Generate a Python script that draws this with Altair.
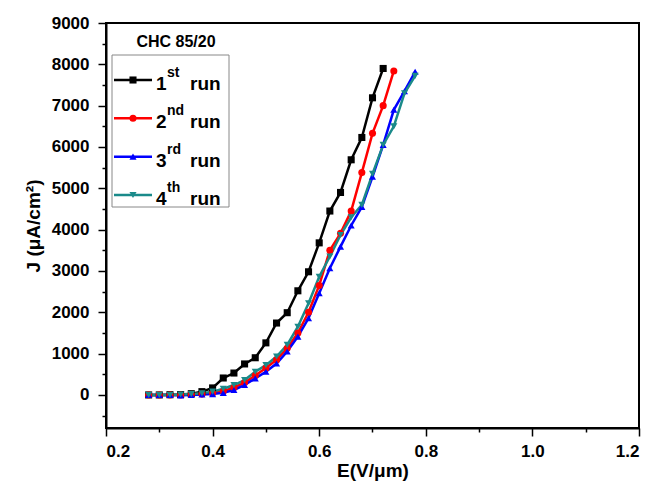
import altair as alt
import pandas as pd

runs = ["1st run", "2nd run", "3rd run", "4th run"]
nums = ["1", "2", "3", "4"]
sups = ["st", "nd", "rd", "th"]
colors = ["#000000", "#ff0000", "#0000ff", "#1a8a8a"]
shapes = ["square", "circle", "triangle-up", "triangle-down"]

x_run1 = [0.28, 0.30, 0.32, 0.34, 0.36, 0.38, 0.40, 0.42, 0.44, 0.46, 0.48, 0.50,
          0.52, 0.54, 0.56, 0.58, 0.60, 0.62, 0.64, 0.66, 0.68, 0.70, 0.72]
j_run1 = [0, 0, 5, 10, 30, 80, 170, 410, 530, 750, 900, 1260,
          1740, 1990, 2520, 2980, 3680, 4450, 4900, 5690, 6230, 7190, 7900]

x_run2 = [0.28, 0.30, 0.32, 0.34, 0.36, 0.38, 0.40, 0.42, 0.44, 0.46, 0.48, 0.50,
          0.52, 0.54, 0.56, 0.58, 0.60, 0.62, 0.64, 0.66, 0.68, 0.70, 0.72, 0.74]
j_run2 = [0, 0, 0, 0, 10, 20, 40, 90, 180, 300, 470, 650,
          850, 1130, 1500, 2000, 2650, 3500, 3910, 4450, 5380, 6330, 7000, 7840]

x_run3 = [0.28, 0.30, 0.32, 0.34, 0.36, 0.38, 0.40, 0.42, 0.44, 0.46, 0.48, 0.50, 0.52,
          0.54, 0.56, 0.58, 0.60, 0.62, 0.64, 0.66, 0.68, 0.70, 0.72, 0.74, 0.76, 0.78]
j_run3 = [0, 0, 0, -10, 0, 10, 20, 50, 120, 240, 400, 560, 760,
          1050, 1410, 1855, 2460, 3065, 3590, 4100, 4550, 5280, 6050, 6900, 7350, 7820]

x_run4 = [0.28, 0.30, 0.32, 0.34, 0.36, 0.38, 0.40, 0.42, 0.44, 0.46, 0.48, 0.50, 0.52,
          0.54, 0.56, 0.58, 0.60, 0.62, 0.64, 0.66, 0.68, 0.70, 0.72, 0.74, 0.76, 0.78]
j_run4 = [0, 0, 0, 10, 20, 40, 80, 150, 240, 360, 560, 720, 930,
          1210, 1650, 2220, 2860, 3350, 3870, 4300, 4600, 5350, 6050, 6500, 7300, 7720]

x_ticks = [0.2, 0.3, 0.4, 0.5, 0.6, 0.7, 0.8, 0.9, 1.0, 1.1, 1.2]
y_ticks = [-500, 0, 500, 1000, 1500, 2000, 2500, 3000, 3500, 4000, 4500,
           5000, 5500, 6000, 6500, 7000, 7500, 8000, 8500, 9000]

rows = []
for name, xs, js in zip(runs, [x_run1, x_run2, x_run3, x_run4],
                        [j_run1, j_run2, j_run3, j_run4]):
    for xv, jv in zip(xs, js):
        rows.append({"E": xv, "J": jv, "run": name})
df = pd.DataFrame(rows)

leg = pd.DataFrame({"run": runs, "num": nums, "sup": sups, "idx": [0, 1, 2, 3]})

FONT = "Liberation Sans"
color_scale = alt.Scale(domain=runs, range=colors)
shape_scale = alt.Scale(domain=runs, range=shapes)

x_enc = alt.X("E:Q", scale=alt.Scale(domain=[0.2, 1.2], nice=False, zero=False),
              axis=alt.Axis(values=x_ticks, format=".1f", title="E(V/\u03bcm)",
                            labelExpr="abs(round(datum.value*10)) % 2 == 0 ? format(datum.value, '.1f') : ''",
                            tickSize={"condition": {"test": "abs(round(datum.value*10)) % 2 == 1", "value": 4}, "value": 8},
                            grid=False))
y_scale = alt.Scale(domain=[-800, 9000], nice=False, zero=False)
y_axis = alt.Axis(values=y_ticks, title="J (\u03bcA/cm\u00b2)",
                  labelExpr="datum.value % 1000 == 0 ? format(datum.value, 'd') : ''",
                  tickSize={"condition": {"test": "datum.value % 1000 != 0", "value": 4}, "value": 8},
                  grid=False)

lines = alt.Chart(df).mark_line(strokeWidth=2.5).encode(
    x=x_enc,
    y=alt.Y("J:Q", scale=y_scale, axis=y_axis),
    color=alt.Color("run:N", scale=color_scale, legend=None),
    detail="run:N",
)
points = alt.Chart(df).mark_point(filled=True, size=50, opacity=1).encode(
    x=alt.X("E:Q", scale=alt.Scale(domain=[0.2, 1.2], nice=False, zero=False)),
    y=alt.Y("J:Q", scale=y_scale, axis=None),
    color=alt.Color("run:N", scale=color_scale, legend=None),
    shape=alt.Shape("run:N", scale=shape_scale, legend=None),
)

leg_y = alt.Y("idx:Q", scale=alt.Scale(domain=[0, 3], range=[57, 172]), axis=None)

box = alt.Chart(pd.DataFrame({"a": [0]})).mark_rect(
    fill="white", stroke="#888888", strokeWidth=1).encode(
    x=alt.value(6), x2=alt.value(123), y=alt.value(32), y2=alt.value(184))

title_txt = alt.Chart(pd.DataFrame({"t": ["CHC 85/20"]})).mark_text(
    font=FONT, fontWeight="bold", fontSize=16, align="center", baseline="middle").encode(
    x=alt.value(70), y=alt.value(19), text="t:N")

leg_lines = alt.Chart(leg).mark_rule(strokeWidth=2.5).encode(
    x=alt.value(8), x2=alt.value(46), y=leg_y,
    color=alt.Color("run:N", scale=color_scale, legend=None))
leg_pts = alt.Chart(leg).mark_point(filled=True, size=50, opacity=1).encode(
    x=alt.value(27), y=leg_y,
    color=alt.Color("run:N", scale=color_scale, legend=None),
    shape=alt.Shape("run:N", scale=shape_scale, legend=None))
leg_num = alt.Chart(leg).mark_text(font=FONT, fontWeight="bold", fontSize=19, align="left",
                                   baseline="middle", dy=4).encode(
    x=alt.value(50), y=leg_y, text="num:N")
leg_sup = alt.Chart(leg).mark_text(font=FONT, fontWeight="bold", fontSize=14, align="left",
                                   baseline="middle", dy=-7).encode(
    x=alt.value(61), y=leg_y, text="sup:N")
leg_run = alt.Chart(leg).mark_text(font=FONT, fontWeight="bold", fontSize=19, align="left",
                                   baseline="middle", dy=4).encode(
    x=alt.value(84), y=leg_y, text=alt.value("run"))

chart = alt.layer(
    lines, points, box, title_txt, leg_lines, leg_pts, leg_num, leg_sup, leg_run
).resolve_scale(y="independent").properties(
    width=533, height=405,
    autosize=alt.AutoSizeParams(type="none"),
    padding={"left": 98, "top": 15, "right": 10, "bottom": 56},
).configure_view(
    stroke="black", strokeWidth=2
).configure_axis(
    labelFont=FONT, labelFontWeight="bold", labelFontSize=17, labelColor="black",
    titleFont=FONT, titleFontWeight="bold", titleFontSize=19, titleColor="black",
    domainColor="black", domainWidth=2, tickColor="black", tickWidth=1.5,
).configure_axisX(titlePadding=2, labelPadding=7).configure_axisY(titlePadding=8, labelPadding=9)

chart.save("out.html", embed_options={"renderer": "svg", "actions": False})
